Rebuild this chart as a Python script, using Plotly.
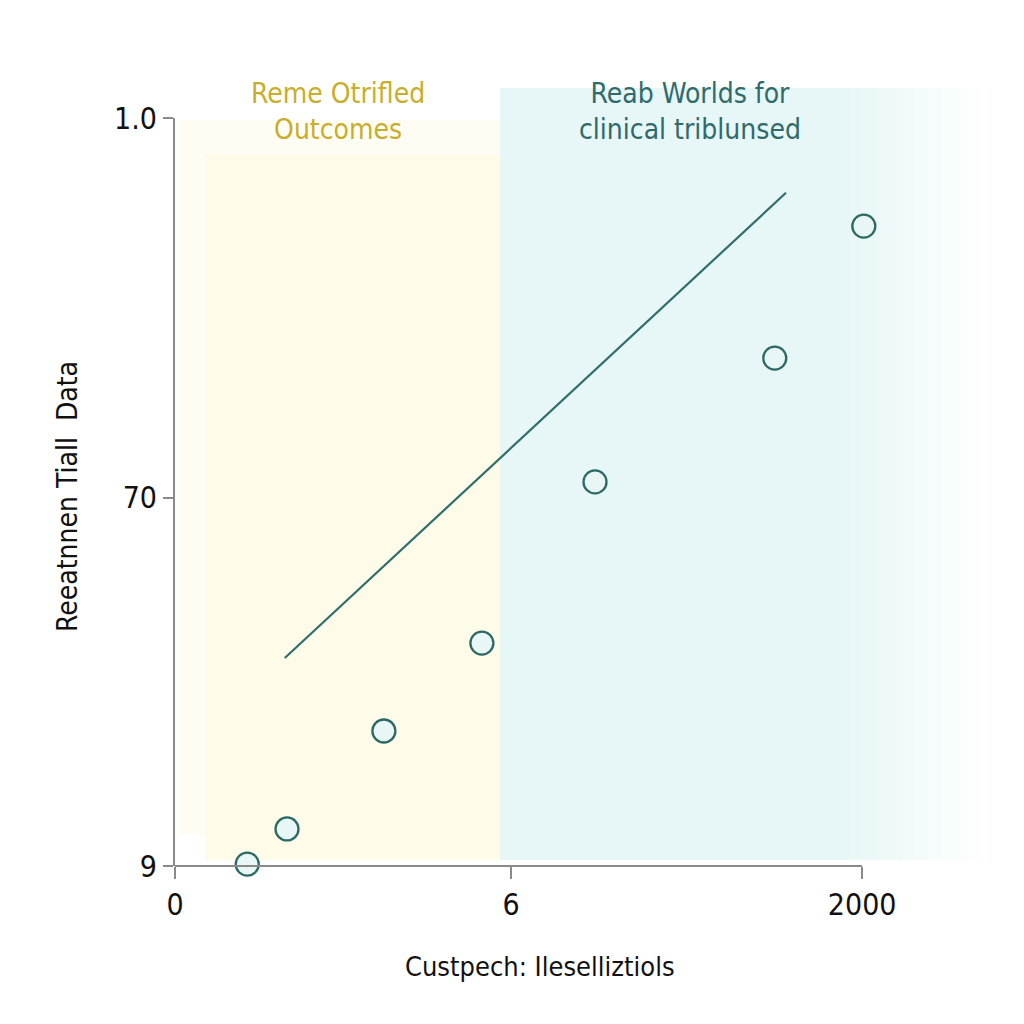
import plotly.graph_objects as go

# ---- data ----
point_x = [1.29, 2.0, 3.73, 5.48, 7.5, 10.71, 12.3]
point_y = [0.005, 0.099, 0.361, 0.596, 1.027, 1.358, 1.711]
line_x = [1.96, 10.91]
line_y = [0.556, 1.80]
x_axis_end = 12.27
x_tickvals = [0, 6, 12.27]
x_ticktext = ["0", "6", "2000"]
y_tickvals = [0, 0.984, 2]
y_ticktext = ["9", "70", "1.0"]
region_labels = ["Reme Otrifled<br>Outcomes", "Reab Worlds for<br>clinical triblunsed"]
x_title = "Custpech: Ileselliztiols"
y_title = "Reeatnnen Tiall  Data"

FONT = "Liberation Sans Narrow, DejaVu Sans Condensed, Roboto, sans-serif"

PLOT_L, PLOT_R, PLOT_T, PLOT_B = 175, 903, 118, 866

def px(v):
    return (v - PLOT_L) / float(PLOT_R - PLOT_L)

def py(v):
    return (PLOT_B - v) / float(PLOT_B - PLOT_T)

fig = go.Figure()

fig.add_trace(go.Scatter(x=line_x, y=line_y, mode="lines",
                         line=dict(color="#2f6e6c", width=2.2),
                         hoverinfo="skip", showlegend=False, cliponaxis=False))
fig.add_trace(go.Scatter(x=point_x, y=point_y, mode="markers",
                         marker=dict(size=23, color="#e8f6f5",
                                     line=dict(color="#2d6a65", width=2.3)),
                         showlegend=False, cliponaxis=False))

shapes = []
# yellow band (outer light + inner)
shapes.append(dict(type="rect", xref="paper", yref="paper", layer="below",
                   x0=px(180), x1=px(500), y0=py(835), y1=py(120),
                   fillcolor="#fffdf3", line=dict(width=0)))
shapes.append(dict(type="rect", xref="paper", yref="paper", layer="below",
                   x0=px(205), x1=px(500), y0=py(860), y1=py(155),
                   fillcolor="#fefbe8", line=dict(width=0)))
# teal band
shapes.append(dict(type="rect", xref="paper", yref="paper", layer="below",
                   x0=px(500), x1=px(850), y0=py(860), y1=py(88),
                   fillcolor="#e7f6f6", line=dict(width=0)))
# fading right edge
fade_steps = 10
for i in range(fade_steps):
    x0 = 850 + i * 13
    op = 1.0 - (i + 1) / (fade_steps + 1)
    shapes.append(dict(type="rect", xref="paper", yref="paper", layer="below",
                       x0=px(x0), x1=px(x0 + 13), y0=py(860), y1=py(88),
                       fillcolor="#e7f6f6", opacity=op, line=dict(width=0)))
# x axis line (stops at the last tick)
shapes.append(dict(type="line", xref="x", yref="paper", layer="above",
                   x0=0, x1=x_axis_end, y0=0, y1=0,
                   line=dict(color="#8a8a8a", width=2)))

fig.update_layout(
    width=1024, height=1024,
    margin=dict(l=PLOT_L, r=1024 - PLOT_R, t=PLOT_T, b=1024 - PLOT_B),
    paper_bgcolor="white", plot_bgcolor="rgba(0,0,0,0)",
    shapes=shapes,
    font=dict(family=FONT, color="#111111"),
    xaxis=dict(range=[0, 13.0], tickvals=x_tickvals, ticktext=x_ticktext,
               showgrid=False, zeroline=False, showline=False,
               ticks="outside", ticklen=12, tickcolor="#8a8a8a",
               tickwidth=2, tickfont=dict(size=30, color="#111111", family=FONT)),
    yaxis=dict(range=[0, 2], tickvals=y_tickvals, ticktext=y_ticktext,
               showgrid=False, zeroline=False, showline=True, linecolor="#8a8a8a",
               linewidth=2, ticks="outside", ticklen=10, tickcolor="#8a8a8a",
               tickwidth=2, tickfont=dict(size=30, color="#111111", family=FONT)),
    annotations=[
        dict(text=region_labels[0], xref="paper", yref="paper",
             x=px(338), y=py(112), xanchor="center", yanchor="middle", showarrow=False,
             font=dict(size=28, color="#c8ae2c", family=FONT), align="center"),
        dict(text=region_labels[1], xref="paper", yref="paper",
             x=px(690), y=py(112), xanchor="center", yanchor="middle", showarrow=False,
             font=dict(size=28, color="#2f6b6a", family=FONT), align="center"),
        dict(text=x_title, xref="paper", yref="paper",
             x=px(540), y=py(966), xanchor="center", yanchor="middle", showarrow=False,
             font=dict(size=27, color="#111111", family=FONT)),
        dict(text=y_title, xref="paper", yref="paper",
             x=px(67), y=py(497), xanchor="center", yanchor="middle", showarrow=False,
             textangle=-90,
             font=dict(size=28, color="#111111", family=FONT)),
    ],
)

fig.write_html("out.html")
